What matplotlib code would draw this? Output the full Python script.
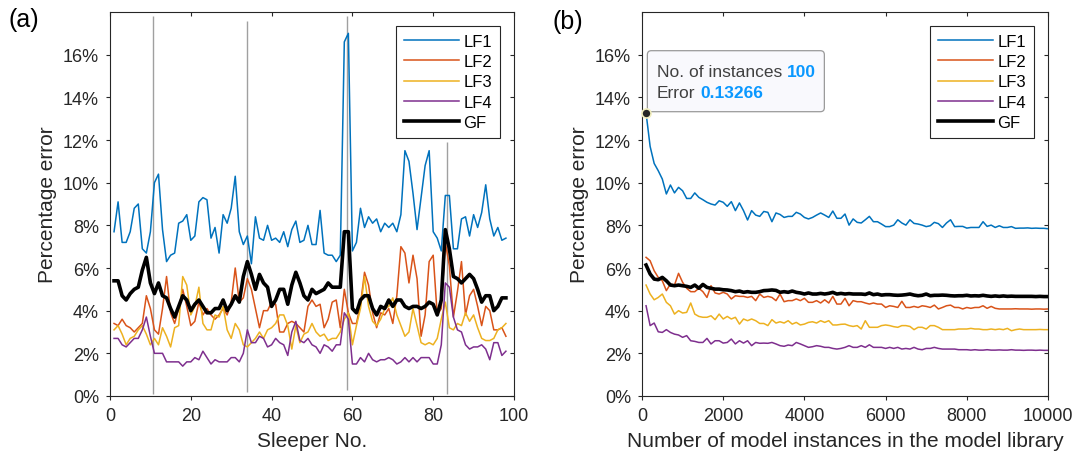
import matplotlib.pyplot as plt
import matplotlib.transforms as mtransforms
import numpy as np
from matplotlib.patches import FancyBboxPatch
from matplotlib.ticker import FuncFormatter

plt.rcParams['font.family'] = ['Liberation Sans', 'DejaVu Sans']

AX_COLOR = '#262626'
LABELS = ['LF1', 'LF2', 'LF3', 'LF4', 'GF']
COLORS = ['#0072BD', '#D95319', '#EDB120', '#7E2F8E', 'black']

# (a) error per sleeper, in percent
sleeper = np.arange(1, 99)
lf1_a = [7.7, 9.1, 7.2, 7.2, 7.7, 8.8, 9.0, 6.9, 6.7, 7.7,
         10.0, 10.4, 7.8, 6.3, 6.6, 6.7, 8.1, 8.2, 8.5, 7.3,
         7.5, 9.1, 9.3, 9.2, 7.4, 7.9, 6.7, 8.5, 8.1, 8.8,
         10.3, 7.7, 7.1, 7.5, 6.2, 8.4, 7.4, 7.3, 8.0, 7.3,
         7.4, 7.2, 7.7, 7.0, 7.8, 8.2, 7.2, 7.3, 8.0, 7.1,
         7.1, 8.7, 6.7, 6.6, 6.6, 6.3, 6.6, 16.6, 17.0, 6.8,
         7.2, 8.8, 7.9, 8.4, 8.1, 8.3, 7.7, 8.1, 7.9, 8.1,
         7.7, 8.5, 11.5, 11.0, 9.5, 7.8, 9.3, 10.8, 11.5, 7.7,
         7.4, 6.8, 9.4, 9.4, 6.9, 6.9, 8.3, 8.4, 7.5, 8.5,
         7.9, 8.6, 9.9, 8.3, 7.5, 7.9, 7.3, 7.4]
lf2_a = [3.4, 3.3, 3.6, 3.3, 3.2, 3.0, 3.2, 3.4, 4.7, 4.1,
         3.1, 2.9, 4.1, 5.6, 3.9, 3.4, 4.1, 5.0, 4.2, 3.3,
         3.5, 4.4, 3.8, 4.1, 3.8, 3.6, 3.8, 4.1, 3.8, 4.4,
         6.0, 4.4, 4.6, 5.5, 5.0, 4.1, 3.2, 4.0, 4.0, 4.4,
         4.3, 3.0, 3.0, 3.4, 3.5, 3.4, 3.2, 3.0, 4.2, 4.5,
         4.2, 4.3, 3.2, 3.6, 4.4, 4.5, 3.2, 5.0, 3.9, 3.4,
         3.4, 4.3, 5.8, 5.2, 3.9, 3.2, 3.9, 3.8, 4.1, 3.4,
         4.7, 7.0, 6.7, 5.3, 6.6, 5.5, 2.8, 3.8, 6.3, 6.6,
         3.8, 4.1, 7.2, 6.1, 3.7, 4.9, 6.3, 3.8, 4.7, 5.0,
         4.2, 3.3, 4.2, 4.0, 3.1, 3.1, 3.2, 2.8]
lf3_a = [3.1, 3.3, 2.9, 2.4, 2.7, 2.8, 3.1, 3.3, 2.9, 2.4,
         2.7, 2.4, 3.2, 2.8, 2.3, 3.2, 3.3, 5.6, 5.2, 3.8,
         4.2, 5.1, 3.4, 3.1, 3.1, 3.8, 3.7, 4.2, 3.1, 2.7,
         3.4, 3.1, 2.4, 2.3, 2.5, 2.7, 3.0, 2.7, 3.1, 3.2,
         3.4, 3.8, 3.8, 3.3, 2.2, 3.3, 2.5, 2.9, 3.0, 3.4,
         3.0, 2.8, 2.9, 2.6, 2.7, 2.7, 3.0, 3.6, 3.9, 2.4,
         3.3, 4.1, 5.6, 4.2, 3.5, 3.3, 3.6, 4.1, 4.2, 4.6,
         3.8, 3.3, 2.8, 3.0, 4.1, 3.3, 2.5, 2.4, 2.5, 2.4,
         2.7, 3.6, 4.4, 3.2, 3.1, 3.4, 3.3, 3.9, 3.5, 3.8,
         3.2, 2.7, 2.6, 2.6, 2.7, 3.1, 3.2, 3.4]
lf4_a = [2.7, 2.7, 2.4, 2.3, 2.5, 2.7, 2.7, 3.1, 3.7, 2.8,
         2.0, 2.0, 2.0, 1.6, 1.6, 1.6, 1.6, 1.4, 1.6, 1.6,
         1.8, 1.7, 2.1, 1.8, 1.5, 1.7, 1.6, 1.6, 1.6, 1.8,
         1.8, 1.6, 2.0, 3.1, 2.5, 2.5, 2.8, 2.7, 2.3, 2.4,
         2.7, 2.5, 2.4, 1.9, 3.0, 3.5, 2.6, 2.5, 2.7, 2.4,
         2.3, 2.0, 2.4, 2.3, 2.1, 2.4, 2.4, 3.9, 3.6, 1.5,
         1.5, 1.8, 1.6, 2.0, 1.7, 1.6, 1.7, 1.7, 1.8, 1.7,
         1.5, 1.6, 1.8, 1.6, 1.8, 1.6, 1.8, 1.8, 1.8, 1.5,
         1.5, 2.4, 5.3, 5.1, 3.7, 3.1, 3.0, 2.4, 2.2, 2.3,
         2.3, 2.4, 2.2, 1.7, 2.5, 2.5, 1.9, 2.1]
gf_a = [5.4, 5.4, 4.7, 4.5, 4.8, 5.0, 5.1, 5.9, 6.5, 5.3,
        4.8, 5.3, 4.7, 4.6, 4.1, 3.7, 4.2, 4.7, 4.5, 4.0,
        4.3, 4.5, 4.2, 3.9, 3.9, 4.1, 4.1, 4.5, 4.0, 4.3,
        4.7, 4.4, 5.6, 6.3, 5.7, 5.0, 5.7, 5.3, 5.1, 4.2,
        4.5, 5.0, 5.0, 4.3, 5.2, 5.8, 5.3, 4.7, 4.5, 5.0,
        4.8, 4.9, 5.0, 5.3, 5.1, 5.1, 5.1, 7.7, 7.7, 4.1,
        3.9, 4.5, 4.7, 4.7, 4.1, 3.8, 4.2, 4.1, 4.5, 4.2,
        4.5, 4.5, 4.2, 4.1, 4.2, 4.2, 4.1, 4.2, 4.4, 4.3,
        3.8, 4.5, 7.8, 6.9, 5.6, 5.5, 5.3, 5.5, 5.7, 5.5,
        5.0, 4.4, 4.7, 4.7, 4.0, 4.2, 4.6, 4.6]

# sleeper boundaries (x, lower %, upper %)
sep_x = [10.7, 33.8, 58.6, 83.4]
sep_lo = [0.1, 0.2, 0.3, 0.1]
sep_hi = [17.8, 17.6, 17.8, 11.9]

# (b) error vs library size, in percent
instances = np.arange(100, 10001, 100)
lf1_b = [13.266, 11.7, 10.9, 10.56, 10.17, 9.47, 9.89, 9.52, 9.78, 9.62,
         9.26, 9.26, 9.52, 9.31, 9.2, 9.08, 9.0, 8.95, 9.15, 9.08,
         8.89, 9.11, 8.69, 9.05, 8.69, 8.25, 8.69, 8.48, 8.42, 8.65,
         8.61, 8.17, 8.58, 8.51, 8.37, 8.42, 8.42, 8.61, 8.53, 8.37,
         8.3, 8.37, 8.48, 8.58, 8.48, 8.37, 8.67, 8.33, 8.33, 8.53,
         8.01, 8.3, 8.14, 8.11, 8.26, 8.42, 8.17, 8.17, 8.06, 7.94,
         7.94, 8.01, 8.26, 8.11, 8.01, 8.26, 8.09, 8.06, 8.01, 7.94,
         7.98, 8.14, 8.08, 7.9, 8.11, 8.26, 7.94, 7.95, 7.95, 7.87,
         7.9, 7.9, 7.9, 8.17, 7.95, 8.01, 7.9, 7.98, 7.9, 7.9,
         7.94, 7.86, 7.87, 7.87, 7.88, 7.86, 7.87, 7.86, 7.86, 7.84]
lf2_b = [6.5, 6.34, 5.87, 5.56, 5.4, 4.94, 5.25, 5.2, 5.75, 5.33,
         5.05, 4.89, 4.89, 5.05, 4.89, 4.62, 5.17, 4.83, 4.78, 4.86,
         4.78, 4.55, 4.7, 4.67, 4.67, 4.62, 4.67, 4.47, 4.78, 4.62,
         4.67, 4.62, 4.47, 4.78, 4.42, 4.47, 4.47, 4.55, 4.47, 4.58,
         4.39, 4.39, 4.47, 4.36, 4.51, 4.36, 4.67, 4.31, 4.31, 4.58,
         4.23, 4.47, 4.42, 4.42, 4.36, 4.31, 4.36, 4.31, 4.31, 4.15,
         4.23, 4.2, 4.15, 4.44, 4.15, 4.15, 4.2, 4.15, 4.23, 4.2,
         4.15, 4.26, 4.08, 4.15, 4.23, 4.26, 4.15, 4.15, 4.08, 4.15,
         4.11, 4.15, 4.15, 4.23, 4.11, 4.2, 4.11, 4.08, 4.08, 4.08,
         4.08, 4.09, 4.08, 4.08, 4.08, 4.07, 4.08, 4.08, 4.07, 4.08]
lf3_b = [5.2, 4.78, 4.51, 4.62, 4.78, 4.39, 4.23, 3.84, 4.0, 3.89,
         3.92, 4.36, 3.84, 3.73, 3.69, 3.69, 3.76, 3.58, 3.84, 3.61,
         3.73, 3.61, 3.69, 3.37, 3.61, 3.53, 3.61, 3.53, 3.4, 3.4,
         3.3, 3.58, 3.42, 3.48, 3.42, 3.53, 3.37, 3.45, 3.33, 3.37,
         3.45, 3.48, 3.42, 3.53, 3.45, 3.53, 3.33, 3.33, 3.36, 3.37,
         3.3, 3.26, 3.3, 3.14, 3.53, 3.22, 3.22, 3.22, 3.3, 3.33,
         3.3, 3.25, 3.22, 3.3, 3.3, 3.26, 3.11, 3.22, 3.22, 3.14,
         3.3, 3.3, 3.22, 3.11, 3.11, 3.11, 3.11, 3.14, 3.14, 3.14,
         3.17, 3.14, 3.14, 3.11, 3.11, 3.14, 3.11, 3.14, 3.11, 3.17,
         3.06, 3.11, 3.14, 3.11, 3.11, 3.11, 3.11, 3.12, 3.11, 3.11]
lf4_b = [4.23, 3.3, 3.42, 3.01, 2.98, 3.11, 2.98, 2.9, 2.86, 2.75,
         2.83, 2.59, 2.56, 2.51, 2.51, 2.7, 2.44, 2.59, 2.59, 2.48,
         2.51, 2.67, 2.44, 2.59, 2.48, 2.59, 2.36, 2.51, 2.47, 2.48,
         2.47, 2.51, 2.44, 2.36, 2.33, 2.39, 2.36, 2.51, 2.44, 2.36,
         2.28, 2.31, 2.36, 2.33, 2.28, 2.28, 2.23, 2.2, 2.23, 2.28,
         2.36, 2.28, 2.28, 2.36, 2.28, 2.4, 2.28, 2.28, 2.28, 2.23,
         2.28, 2.23, 2.28, 2.2, 2.23, 2.2, 2.28, 2.2, 2.17, 2.23,
         2.23, 2.28, 2.23, 2.2, 2.2, 2.2, 2.2, 2.17, 2.17, 2.17,
         2.15, 2.17, 2.15, 2.15, 2.17, 2.15, 2.15, 2.16, 2.15, 2.15,
         2.17, 2.15, 2.15, 2.14, 2.15, 2.15, 2.14, 2.15, 2.14, 2.14]
gf_b = [6.14, 5.72, 5.48, 5.45, 5.56, 5.4, 5.2, 5.17, 5.2, 5.17,
        5.14, 5.09, 5.2, 5.05, 5.23, 5.09, 5.05, 5.01, 5.01, 4.98,
        4.97, 4.94, 4.89, 4.92, 4.86, 4.89, 4.86, 4.86, 4.89, 4.94,
        4.95, 4.97, 4.95, 4.86, 4.89, 4.86, 4.92, 4.86, 4.83, 4.78,
        4.83, 4.78, 4.78, 4.81, 4.78, 4.81, 4.86, 4.78, 4.81, 4.78,
        4.8, 4.78, 4.78, 4.78, 4.76, 4.83, 4.75, 4.78, 4.73, 4.75,
        4.75, 4.73, 4.72, 4.73, 4.75, 4.78, 4.73, 4.7, 4.72, 4.78,
        4.7, 4.72, 4.72, 4.73, 4.72, 4.7, 4.69, 4.7, 4.7, 4.72,
        4.69, 4.7, 4.69, 4.72, 4.69, 4.67, 4.69, 4.67, 4.69, 4.67,
        4.68, 4.67, 4.67, 4.67, 4.67, 4.67, 4.66, 4.67, 4.66, 4.66]


def frac(values):
    return np.asarray(values) / 100.0


def style_axes(ax):
    for spine in ax.spines.values():
        spine.set_color(AX_COLOR)
        spine.set_linewidth(0.8)
    ax.tick_params(direction='out', length=3, width=0.8, colors=AX_COLOR,
                   labelsize=13, pad=5)
    ax.set_ylim(0, 0.18)
    ax.set_yticks(np.arange(0, 0.161, 0.02))
    ax.yaxis.set_major_formatter(FuncFormatter(lambda v, _: f'{v * 100:.0f}%'))
    ax.set_ylabel('Percentage error', fontsize=15, color=AX_COLOR, labelpad=4)
    # mirrored ticks on top/right point into the box, MATLAB style
    top = ax.secondary_xaxis('top')
    top.set_xticks(ax.get_xticks())
    right = ax.secondary_yaxis('right')
    right.set_yticks(ax.get_yticks())
    for sec in (top, right):
        sec.tick_params(direction='in', length=3, width=0.8, colors=AX_COLOR,
                        labelsize=0)
        for spine in sec.spines.values():
            spine.set_visible(False)
    top.set_xticklabels([])
    right.set_yticklabels([])


def add_legend(ax):
    leg = ax.legend(loc='upper right', fontsize=12, fancybox=False,
                    framealpha=1, handlelength=3.3, handletextpad=0.3,
                    labelspacing=0.32, borderpad=0.45, borderaxespad=0.85)
    leg.get_frame().set_edgecolor(AX_COLOR)
    leg.get_frame().set_linewidth(0.8)


fig = plt.figure(figsize=(10.8, 4.6), dpi=100)
ax_a = fig.add_axes([110 / 1080, 63 / 460, 404 / 1080, 384 / 460])
ax_b = fig.add_axes([642 / 1080, 63 / 460, 406 / 1080, 384 / 460])

# (a)
ax_a.vlines(sep_x, frac(sep_lo), frac(sep_hi), color='#a0a0a0', lw=1.0, zorder=1)
series_a = [lf1_a, lf2_a, lf3_a, lf4_a, gf_a]
for vals, lab, col in zip(series_a, LABELS, COLORS):
    lw = 2.6 if lab == 'GF' else 1.1
    ax_a.plot(sleeper, frac(vals), color=col, lw=lw, label=lab, zorder=3)
ax_a.set_xlim(0, 100)
ax_a.set_xticks(np.arange(0, 101, 20))
ax_a.set_xlabel('Sleeper No.', fontsize=15, color=AX_COLOR, labelpad=5)
style_axes(ax_a)
add_legend(ax_a)

# (b)
series_b = [lf1_b, lf2_b, lf3_b, lf4_b, gf_b]
for vals, lab, col in zip(series_b, LABELS, COLORS):
    lw = 2.6 if lab == 'GF' else 1.1
    ax_b.plot(instances, frac(vals), color=col, lw=lw, label=lab, zorder=3)
ax_b.set_xlim(0, 10000)
ax_b.set_xticks(np.arange(0, 10001, 2000))
ax_b.set_xlabel('Number of model instances in the model library', fontsize=15,
                color=AX_COLOR, labelpad=5)
style_axes(ax_b)
add_legend(ax_b)

# data tip on the first LF1 point
tip_x, tip_y = instances[0], frac(lf1_b)[0]
ax_b.plot(tip_x, tip_y, 'o', ms=6.5, mfc=AX_COLOR, mec='#f2efbf', mew=1.2,
          zorder=8, clip_on=False)
tip_tr = fig.dpi_scale_trans + mtransforms.ScaledTranslation(tip_x, tip_y, ax_b.transData)
ax_b.add_patch(FancyBboxPatch((0.013, 0.013), 1.77, 0.61,
                              boxstyle='round,pad=0,rounding_size=0.04',
                              transform=tip_tr, fc='#f9f9fd', ec='#9a9a9a',
                              lw=0.9, zorder=7, clip_on=False))
for row_y, name, value in [(0.416, 'No. of instances', f'{tip_x}'),
                           (0.203, 'Error', f'{tip_y:.5f}')]:
    t = ax_b.text(0.11, row_y, name, transform=tip_tr, ha='left', va='center',
                  fontsize=12.5, color='#404040', zorder=9)
    ax_b.annotate(value, xy=(1, 0.5), xycoords=t, xytext=(3.5, 0),
                  textcoords='offset points', ha='left', va='center',
                  fontsize=12.5, fontweight='bold', color='#0a98ff', zorder=9)

fig.text(8 / 1080, 1 - 8 / 460, '(a)', fontsize=18, color='black', va='top', ha='left')
fig.text(553 / 1080, 1 - 10 / 460, '(b)', fontsize=18, color='black', va='top', ha='left')

fig.savefig('out.png', dpi=100)
